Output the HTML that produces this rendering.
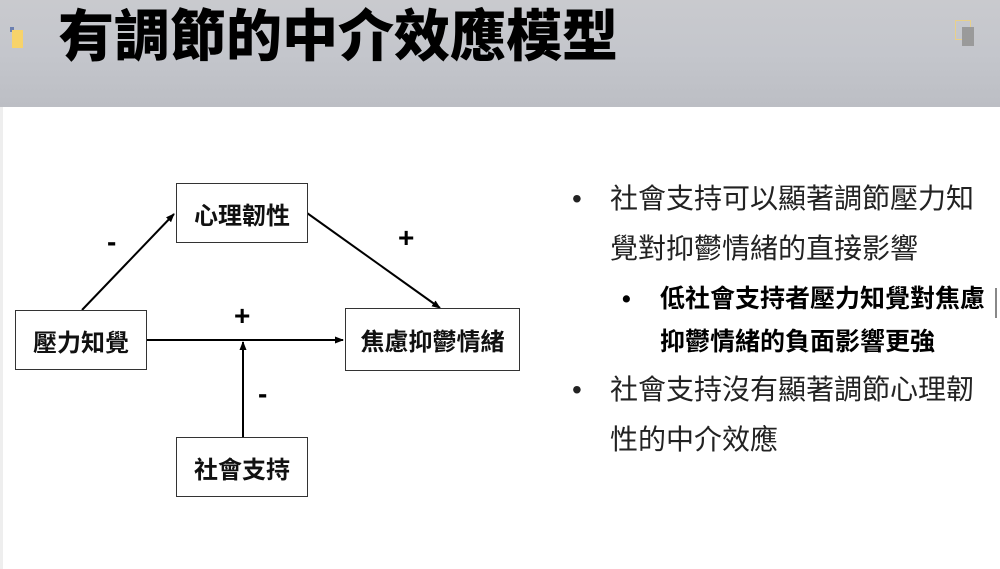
<!DOCTYPE html>
<html><head><meta charset="utf-8"><style>
body{margin:0;width:1000px;height:569px;overflow:hidden;background:#fff;font-family:"Liberation Sans","Noto Sans CJK TC",sans-serif;position:relative}
.hdr{position:absolute;left:0;top:0;width:1000px;height:107px;background:linear-gradient(180deg,#c9cace 0%,#c4c6cc 50%,#bcbec4 100%)}
.t{position:absolute;left:58px;top:5px;font-size:56px;font-weight:900;color:#000;line-height:64px;white-space:nowrap}
.box{position:absolute;border:1.5px solid #333;background:#fff;display:flex;align-items:center;justify-content:center;font-weight:bold;font-size:24px;color:#111;box-sizing:border-box}
.l{position:absolute;font-size:28px;color:#222;white-space:nowrap;line-height:30px}
.b{font-weight:bold;font-size:25px;color:#000}
.lab{position:absolute;font-weight:bold;font-size:28px;color:#000}
</style></head><body>
<div class="hdr"></div>
<div style="position:absolute;left:10px;top:27px;width:4px;height:5px;background:#6b7fb0"></div>
<div style="position:absolute;left:12px;top:30px;width:11px;height:18px;background:#f7d36a"></div>
<div style="position:absolute;left:955px;top:20px;width:14px;height:18px;border:1px solid #e8d08a"></div>
<div style="position:absolute;left:962px;top:27px;width:12px;height:19px;background:#9a9a9a"></div>
<div class="t">有調節的中介效應模型</div>
<div style="position:absolute;left:0;top:107px;width:3px;height:462px;background:#eee"></div>
<div style="position:absolute;left:995px;top:288px;width:2px;height:30px;background:#888"></div>
<svg style="position:absolute;left:0;top:0" width="1000" height="569">
<defs><marker id="a" markerWidth="9" markerHeight="9" refX="8" refY="4.5" orient="auto" markerUnits="userSpaceOnUse"><path d="M0,1 L9,4.5 L0,8Z" fill="#000"/></marker></defs>
<g stroke="#000" stroke-width="2" fill="none">
<line x1="82" y1="310" x2="174" y2="214" marker-end="url(#a)"/>
<line x1="307" y1="213" x2="440" y2="308" marker-end="url(#a)"/>
<line x1="147" y1="340" x2="343" y2="340" marker-end="url(#a)"/>
<line x1="243" y1="437" x2="243" y2="342" marker-end="url(#a)"/>
</g></svg>
<div class="box" style="left:176px;top:183px;width:132px;height:60px">心理韌性</div>
<div class="box" style="left:15px;top:310px;width:132px;height:60px">壓力知覺</div>
<div class="box" style="left:345px;top:308px;width:175px;height:63px">焦慮抑鬱情緒</div>
<div class="box" style="left:176px;top:437px;width:132px;height:60px">社會支持</div>
<div class="lab" style="left:107px;top:226px">-</div>
<div class="lab" style="left:398px;top:222px">+</div>
<div class="lab" style="left:234px;top:300px">+</div>
<div class="lab" style="left:258px;top:378px">-</div>
<div class="l" style="left:572px;top:184px">•</div>
<div class="l" style="left:610px;top:184px">社會支持可以顯著調節壓力知</div>
<div class="l" style="left:610px;top:234px">覺對抑鬱情緒的直接影響</div>
<div class="l b" style="left:622px;top:284px">•</div>
<div class="l b" style="left:660px;top:284px">低社會支持者壓力知覺對焦慮</div>
<div class="l b" style="left:660px;top:327px">抑鬱情緒的負面影響更強</div>
<div class="l" style="left:572px;top:375px">•</div>
<div class="l" style="left:610px;top:375px">社會支持沒有顯著調節心理韌</div>
<div class="l" style="left:610px;top:425px">性的中介效應</div>
</body></html>
